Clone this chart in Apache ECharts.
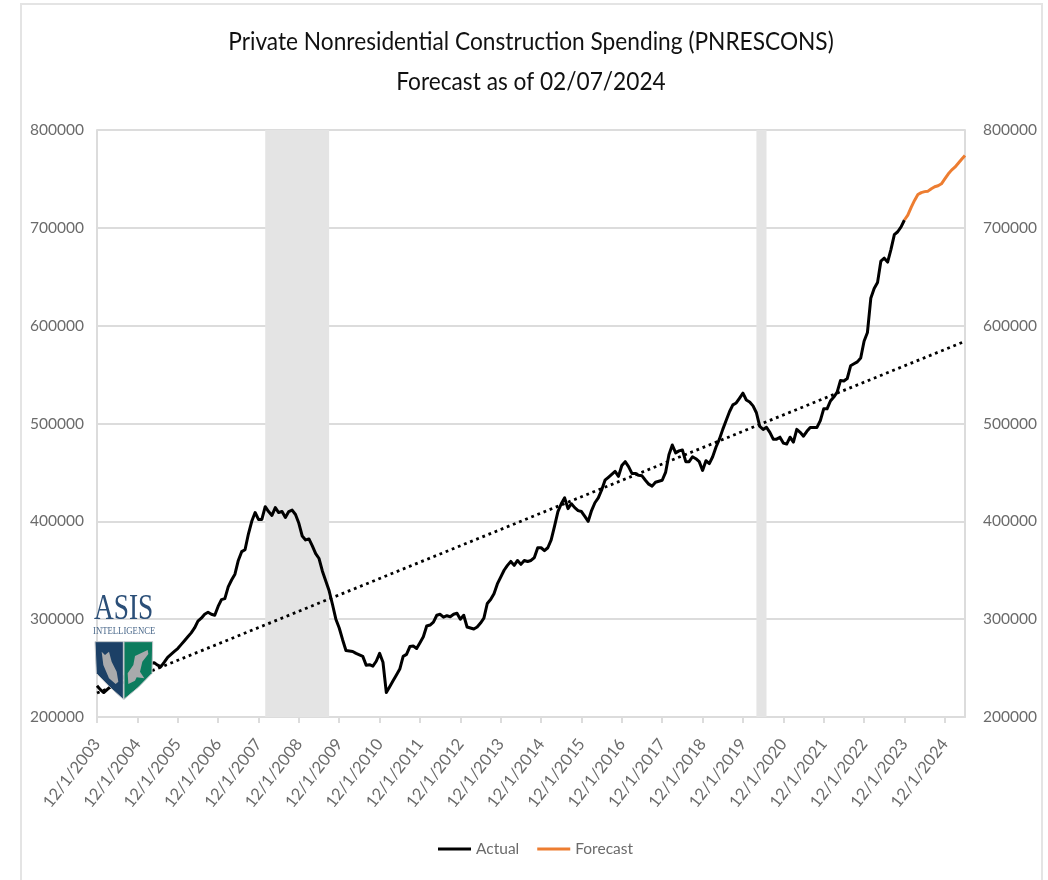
<!DOCTYPE html>
<html><head><meta charset="utf-8">
<style>html,body{margin:0;padding:0;background:#fff}#c{width:1048px;height:880px}</style>
<script src="https://cdn.jsdelivr.net/npm/echarts@6/dist/echarts.min.js"></script>
</head><body><div id="c"></div>
<script>
var titleLines = ['Private Nonresidential Construction Spending (PNRESCONS)', 'Forecast as of 02/07/2024'];
var startYear = 2003, startMonth = 12, monthCount = 259;
var actualValues = [
232000,228000,225000,228000,231000,235000,239000,237000,241000,244000,242000,246000,
248000,246000,250000,253000,255000,255500,253000,251500,256000,261000,264000,267000,
270000,274000,278000,282000,286000,291000,298000,301000,305000,307000,305000,304000,
313000,320000,321000,333000,340000,346000,360000,369000,371000,387000,400000,409000,
402000,402000,415000,410000,406000,414000,409000,410000,404000,410000,411500,407000,
398000,385000,381000,382000,375000,367000,362000,349000,339000,329000,315000,300000,
291000,279000,268000,267500,267000,265000,263500,262000,253000,253500,252000,257000,
265000,256000,225000,231000,237000,243000,249000,262000,264000,272000,272500,270000,
276000,282000,293000,294000,297000,304000,305000,302000,303500,302500,305000,306000,
300000,304000,292000,291000,290000,292000,296000,301000,316000,320000,326000,336000,
343000,350000,355000,359000,355000,360000,356000,360000,359000,360000,363000,373000,
373000,370000,373000,381000,395000,410000,418000,424000,413000,418000,414000,411000,
410000,405000,400000,411000,419000,424000,432000,442000,445000,448000,451000,446000,
457000,461000,456000,449000,449000,447000,446500,442000,438000,436000,440000,441000,
442000,450000,468000,478000,470000,472000,473000,461000,461000,466000,464000,461000,
452000,462000,459000,466000,476000,484000,494000,503000,512000,519000,521000,526000,
531000,524000,522000,518000,511000,497000,494000,496000,491000,484000,484000,486000,
480000,479000,486000,481000,494000,491000,487000,492000,496000,496000,496000,503000,
515000,515000,523000,527000,532000,544000,543500,546000,559000,561000,563000,567000,
584000,593000,628000,638000,644000,666000,669000,665000,678000,693000,696000,701000,
708000];
var forecastValues = [708000,713000,721000,728000,734000,736000,737000,737500,740000,742000,743000,745000,750000,755000,759000,762000,766000,770000,774000];
var trendValues = [224500, 584000];
var recessionSpans = [[50, 69], [196, 199]];

var categories = [];
for (var i = 0; i < monthCount; i++) {
  var mm = (startMonth - 1 + i) % 12 + 1;
  var yy = startYear + Math.floor((startMonth - 1 + i) / 12);
  categories.push(mm + '/1/' + yy);
}
var forecastSeries = categories.map(function (c, idx) {
  var k = idx - (monthCount - forecastValues.length);
  return k >= 0 ? forecastValues[k] : null;
});

var gray = '#6b6b6b', rule = '#dcdcdc';
var font = 'Lato';
function every12(idx) { return idx % 12 === 0; }
function plain(v) { return String(v); }
function lx(z){return 85 + z/3;} function ly(z){return 590 + z/3;}
function pts(a){return a.map(function(p){return [lx(p[0]), ly(p[1])];});}

var chart = echarts.init(document.getElementById('c'), null, {renderer:'canvas'});
chart.setOption({
  animation: false,
  backgroundColor: '#fff',
  legend: {
    left: 433, top: 836, icon: 'rect', itemWidth: 33, itemHeight: 3, itemGap: 18,
    data: ['Actual', 'Forecast'],
    textStyle: {color: gray, fontFamily: font, fontSize: 15.5}
  },
  grid: {left: 97, right: 83, top: 130, bottom: 163, containLabel: false},
  xAxis: {
    type: 'category', data: categories, boundaryGap: false,
    axisLine: {lineStyle: {color: rule, width: 2}},
    axisTick: {show: true, interval: every12, length: 6, lineStyle: {color: rule, width: 2}},
    axisLabel: {interval: every12, rotate: 52, margin: 24, color: gray, fontFamily: font, fontSize: 16.5},
    splitLine: {show: false}
  },
  yAxis: [
    {type: 'value', min: 200000, max: 800000, interval: 100000,
     axisLine: {show: true, lineStyle: {color: rule, width: 2}}, axisTick: {show: false},
     axisLabel: {margin: 13, color: gray, fontFamily: font, fontSize: 15.5, formatter: plain},
     splitLine: {lineStyle: {color: rule, width: 2}}},
    {type: 'value', min: 200000, max: 800000, interval: 100000, position: 'right',
     axisLine: {show: true, lineStyle: {color: rule, width: 2}}, axisTick: {show: false},
     axisLabel: {margin: 18, color: gray, fontFamily: font, fontSize: 15.5, formatter: plain},
     splitLine: {show: false}}
  ],
  series: [
    {name: 'Recession', type: 'line', data: [], silent: true, z: 1,
     markArea: {silent: true, itemStyle: {color: '#e4e4e4', opacity: 1},
       data: recessionSpans.map(function (s) { return [{xAxis: categories[s[0]]}, {xAxis: categories[s[1]]}]; })}},
    {name: 'Trend', type: 'line', symbol: 'none', silent: true, z: 3,
     data: [[categories[0], trendValues[0]], [categories[monthCount-1], trendValues[1]]],
     lineStyle: {color: '#000', width: 2.8, type: [2.8, 3.8]}},
    {name: 'Actual', type: 'line', symbol: 'none', z: 4, data: actualValues,
     lineStyle: {color: '#000', width: 3, join: 'round'}, itemStyle: {color: '#000'}},
    {name: 'Forecast', type: 'line', symbol: 'none', z: 4, data: forecastSeries,
     lineStyle: {color: '#ed7d31', width: 3, join: 'round'}, itemStyle: {color: '#ed7d31'}}
  ],
  graphic: [
    {type: 'text', z: 60, silent: true, x: 531, y: 42, scaleX: 0.89,
     style: {text: titleLines[0], fill: '#111', font: '25.5px Lato', textAlign: 'center', textVerticalAlign: 'middle'}},
    {type: 'text', z: 60, silent: true, x: 531, y: 82, scaleX: 0.89,
     style: {text: titleLines[1], fill: '#111', font: '25.5px Lato', textAlign: 'center', textVerticalAlign: 'middle'}},
    {type: 'polyline', z: 50, silent: true, shape: {points: [[21, 882], [21, 4], [1042, 4], [1042, 882]]},
     style: {stroke: '#e4e4e4', lineWidth: 2, fill: null}},
    {type: 'group', z: 100, silent: true, children: [
      {type: 'text', z: 100, x: 94, y: 592, scaleX: 0.76, style: {text: 'ASIS', fill: '#2b4f78', font: '36px "Liberation Serif"'}},
      {type: 'text', z: 100, x: 93, y: 626, scaleX: 0.87, style: {text: 'INTELLIGENCE', fill: '#4c6a8c', font: '10px "Liberation Serif"'}},
      {type: 'polygon', z: 100, shape: {points: pts([[30,155],[115,155],[115,328],[75,292],[34,250]])}, style: {fill: '#1c4066', stroke: '#c4c8cc', lineWidth: 1}},
      {type: 'polygon', z: 100, shape: {points: pts([[117,155],[203,155],[201,250],[160,292],[117,328]])}, style: {fill: '#0c7c5e', stroke: '#c4c8cc', lineWidth: 1}},
      {type: 'polygon', z: 101, shape: {points: pts([[50,185],[60,195],[72,185],[80,215],[95,245],[100,275],[92,282],[72,265],[55,225]])}, style: {fill: '#a9aaac'}},
      {type: 'polygon', z: 101, shape: {points: pts([[188,180],[190,192],[172,215],[165,245],[178,265],[155,262],[150,272],[130,282],[128,250],[145,225],[150,198]])}, style: {fill: '#a9aaac'}}
    ]}
  ]
});
</script></body></html>
